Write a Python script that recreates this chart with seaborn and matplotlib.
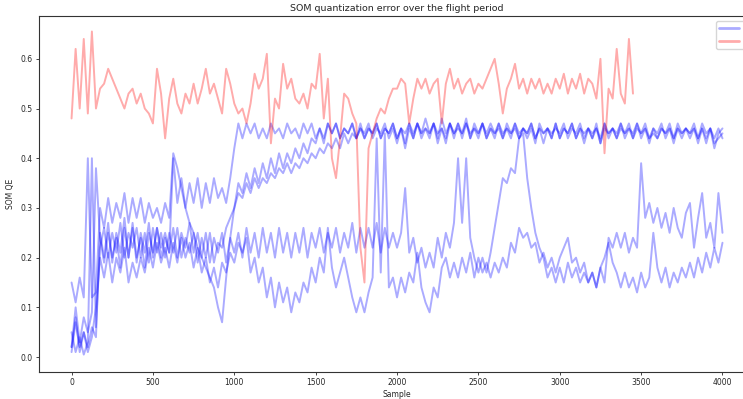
import numpy as np
import matplotlib
matplotlib.use("Agg")
import matplotlib.pyplot as plt
import seaborn as sns

# -------------------------------
# Data read off the chart (QE sampled every 25 samples)
# -------------------------------
sample = np.arange(0, 4001, 25)
sample_anomaly = np.arange(0, 3451, 25)

flight_1 = [
    0.02, 0.08, 0.01, 0.05, 0.02, 0.06, 0.04, 0.25,
    0.20, 0.27, 0.19, 0.25, 0.21, 0.28, 0.20, 0.26,
    0.19, 0.25, 0.21, 0.27, 0.20, 0.26, 0.22, 0.25,
    0.21, 0.40, 0.31, 0.36, 0.30, 0.35, 0.31, 0.36,
    0.30, 0.35, 0.31, 0.36, 0.32, 0.34, 0.31, 0.36,
    0.42, 0.47, 0.44, 0.47, 0.45, 0.47, 0.44, 0.46,
    0.44, 0.47, 0.45, 0.46, 0.44, 0.47, 0.45, 0.46,
    0.44, 0.47, 0.45, 0.47, 0.44, 0.46, 0.43, 0.47,
    0.45, 0.47, 0.44, 0.46, 0.45, 0.47, 0.44, 0.46,
    0.45, 0.47, 0.44, 0.46, 0.45, 0.47, 0.44, 0.46,
    0.43, 0.46, 0.42, 0.46, 0.44, 0.47, 0.45, 0.48,
    0.45, 0.47, 0.44, 0.48, 0.45, 0.47, 0.44, 0.47,
    0.45, 0.48, 0.44, 0.47, 0.45, 0.47, 0.44, 0.46,
    0.44, 0.47, 0.45, 0.46, 0.44, 0.47, 0.45, 0.46,
    0.44, 0.46, 0.43, 0.47, 0.45, 0.46, 0.44, 0.47,
    0.44, 0.46, 0.45, 0.47, 0.44, 0.46, 0.43, 0.46,
    0.44, 0.46, 0.43, 0.47, 0.44, 0.46, 0.45, 0.47,
    0.44, 0.46, 0.45, 0.47, 0.44, 0.46, 0.43, 0.46,
    0.45, 0.47, 0.44, 0.46, 0.43, 0.46, 0.44, 0.46,
    0.44, 0.46, 0.43, 0.46, 0.44, 0.46, 0.42, 0.45,
    0.46,
]

flight_2 = [
    0.05, 0.01, 0.04, 0.005, 0.03, 0.40, 0.06, 0.22,
    0.26, 0.20, 0.25, 0.21, 0.27, 0.20, 0.25, 0.22,
    0.26, 0.20, 0.25, 0.19, 0.26, 0.21, 0.25, 0.20,
    0.25, 0.21, 0.26, 0.20, 0.24, 0.21, 0.25, 0.19,
    0.24, 0.20, 0.25, 0.19, 0.23, 0.22, 0.26, 0.28,
    0.30, 0.35, 0.33, 0.37, 0.34, 0.38, 0.35, 0.39,
    0.36, 0.40, 0.37, 0.41, 0.38, 0.41, 0.39, 0.42,
    0.40, 0.43, 0.41, 0.44, 0.43, 0.46, 0.44, 0.47,
    0.45, 0.47, 0.44, 0.46, 0.45, 0.47, 0.44, 0.47,
    0.44, 0.46, 0.45, 0.47, 0.44, 0.46, 0.45, 0.47,
    0.44, 0.46, 0.43, 0.47, 0.45, 0.47, 0.44, 0.46,
    0.45, 0.47, 0.43, 0.46, 0.44, 0.47, 0.45, 0.47,
    0.44, 0.47, 0.45, 0.46, 0.44, 0.47, 0.45, 0.47,
    0.45, 0.47, 0.44, 0.46, 0.45, 0.47, 0.44, 0.46,
    0.45, 0.47, 0.44, 0.46, 0.43, 0.46, 0.45, 0.46,
    0.45, 0.47, 0.44, 0.46, 0.45, 0.47, 0.44, 0.46,
    0.45, 0.46, 0.44, 0.47, 0.45, 0.46, 0.44, 0.46,
    0.45, 0.47, 0.44, 0.46, 0.45, 0.47, 0.44, 0.45,
    0.44, 0.46, 0.45, 0.47, 0.44, 0.46, 0.45, 0.46,
    0.45, 0.47, 0.44, 0.46, 0.43, 0.46, 0.44, 0.46,
    0.44,
]

flight_3 = [
    0.15, 0.11, 0.16, 0.12, 0.40, 0.12, 0.13, 0.30,
    0.26, 0.32, 0.27, 0.31, 0.28, 0.33, 0.27, 0.32,
    0.28, 0.32, 0.27, 0.31, 0.28, 0.30, 0.27, 0.31,
    0.28, 0.41, 0.38, 0.34, 0.30, 0.27, 0.25, 0.22,
    0.20, 0.18, 0.16, 0.14, 0.10, 0.07, 0.16, 0.24,
    0.30, 0.33, 0.32, 0.35, 0.33, 0.36, 0.34, 0.36,
    0.35, 0.37, 0.36, 0.38, 0.37, 0.39, 0.37, 0.39,
    0.38, 0.40, 0.39, 0.41, 0.40, 0.42, 0.41, 0.43,
    0.42, 0.44, 0.42, 0.45, 0.43, 0.45, 0.44, 0.46,
    0.44, 0.46, 0.45, 0.47, 0.44, 0.46, 0.45, 0.47,
    0.44, 0.46, 0.45, 0.47, 0.44, 0.47, 0.45, 0.46,
    0.44, 0.47, 0.45, 0.46, 0.43, 0.47, 0.45, 0.46,
    0.45, 0.47, 0.44, 0.46, 0.45, 0.47, 0.44, 0.46,
    0.45, 0.46, 0.44, 0.47, 0.45, 0.46, 0.44, 0.46,
    0.45, 0.47, 0.44, 0.46, 0.45, 0.46, 0.44, 0.47,
    0.44, 0.46, 0.45, 0.47, 0.44, 0.46, 0.45, 0.46,
    0.44, 0.47, 0.43, 0.46, 0.45, 0.46, 0.44, 0.47,
    0.45, 0.46, 0.44, 0.47, 0.45, 0.46, 0.44, 0.46,
    0.44, 0.46, 0.45, 0.46, 0.44, 0.47, 0.45, 0.46,
    0.45, 0.46, 0.44, 0.47, 0.45, 0.46, 0.43, 0.44,
    0.45,
]

flight_4 = [
    0.02, 0.10, 0.03, 0.08, 0.05, 0.09, 0.38, 0.24,
    0.19, 0.25, 0.20, 0.24, 0.18, 0.26, 0.20, 0.27,
    0.20, 0.24, 0.18, 0.25, 0.21, 0.26, 0.20, 0.24,
    0.21, 0.26, 0.20, 0.25, 0.22, 0.27, 0.21, 0.25,
    0.20, 0.25, 0.19, 0.24, 0.21, 0.25, 0.19, 0.24,
    0.21, 0.25, 0.20, 0.26, 0.21, 0.25, 0.20, 0.26,
    0.21, 0.25, 0.20, 0.26, 0.21, 0.25, 0.20, 0.25,
    0.21, 0.26, 0.20, 0.25, 0.22, 0.26, 0.21, 0.25,
    0.22, 0.26, 0.21, 0.25, 0.22, 0.27, 0.21, 0.26,
    0.22, 0.26, 0.22, 0.27, 0.21, 0.26, 0.22, 0.25,
    0.22, 0.25, 0.34, 0.21, 0.24, 0.19, 0.22, 0.18,
    0.21, 0.18, 0.24, 0.20, 0.25, 0.22, 0.27, 0.40,
    0.27, 0.40, 0.24, 0.20, 0.17, 0.20, 0.17, 0.21,
    0.26, 0.31, 0.36, 0.35, 0.38, 0.37, 0.44, 0.45,
    0.36, 0.30, 0.25, 0.22, 0.20, 0.16, 0.18, 0.15,
    0.18, 0.15, 0.19, 0.16, 0.18, 0.15, 0.17, 0.15,
    0.17, 0.14, 0.18, 0.15, 0.24, 0.22, 0.25, 0.22,
    0.25, 0.21, 0.24, 0.22, 0.39, 0.28, 0.31, 0.27,
    0.30, 0.26, 0.29, 0.25, 0.30, 0.26, 0.24, 0.29,
    0.31, 0.22, 0.28, 0.33, 0.24, 0.27, 0.22, 0.33,
    0.25,
]

flight_5 = [
    0.01, 0.07, 0.02, 0.05, 0.01, 0.04, 0.10, 0.20,
    0.16, 0.21, 0.15, 0.20, 0.17, 0.22, 0.15, 0.19,
    0.16, 0.20, 0.17, 0.22, 0.18, 0.23, 0.19, 0.22,
    0.18, 0.23, 0.19, 0.24, 0.20, 0.23, 0.18, 0.22,
    0.17, 0.20, 0.15, 0.18, 0.14, 0.19, 0.17, 0.21,
    0.19, 0.23, 0.21, 0.24, 0.17, 0.20, 0.15, 0.18,
    0.12, 0.16, 0.10, 0.15, 0.11, 0.14, 0.09, 0.13,
    0.11, 0.15, 0.13, 0.18, 0.15, 0.20, 0.17, 0.26,
    0.18, 0.14, 0.17, 0.20, 0.16, 0.12, 0.09, 0.12,
    0.09, 0.13, 0.16, 0.44, 0.17, 0.45, 0.14, 0.16,
    0.12, 0.16, 0.13, 0.17, 0.15, 0.21, 0.14, 0.11,
    0.09, 0.14, 0.12, 0.18, 0.20, 0.16, 0.19, 0.16,
    0.20, 0.17, 0.21, 0.16, 0.20, 0.17, 0.19, 0.16,
    0.19, 0.17, 0.20, 0.18, 0.23, 0.21, 0.26, 0.24,
    0.25, 0.22, 0.23, 0.19, 0.21, 0.18, 0.20, 0.17,
    0.20, 0.22, 0.24, 0.19, 0.20, 0.17, 0.19, 0.15,
    0.17, 0.14, 0.18, 0.20, 0.23, 0.19, 0.17, 0.14,
    0.17, 0.14, 0.16, 0.13, 0.17, 0.14, 0.16, 0.25,
    0.18, 0.15, 0.18, 0.14, 0.17, 0.15, 0.18, 0.16,
    0.19, 0.16, 0.20, 0.17, 0.21, 0.18, 0.22, 0.19,
    0.23,
]

anomaly_flight = [
    0.48, 0.62, 0.50, 0.64, 0.49, 0.655, 0.50, 0.54,
    0.55, 0.58, 0.56, 0.54, 0.52, 0.50, 0.53, 0.54,
    0.51, 0.53, 0.50, 0.49, 0.47, 0.58, 0.53, 0.44,
    0.52, 0.56, 0.51, 0.49, 0.53, 0.51, 0.55, 0.51,
    0.54, 0.58, 0.53, 0.55, 0.52, 0.49, 0.58, 0.55,
    0.51, 0.49, 0.50, 0.47, 0.51, 0.57, 0.54, 0.56,
    0.61, 0.43, 0.52, 0.50, 0.59, 0.54, 0.56, 0.52,
    0.51, 0.53, 0.50, 0.55, 0.54, 0.61, 0.48, 0.56,
    0.40, 0.36, 0.44, 0.53, 0.52, 0.49, 0.47, 0.22,
    0.15, 0.42, 0.45, 0.48, 0.50, 0.49, 0.52, 0.54,
    0.54, 0.56, 0.55, 0.47, 0.52, 0.56, 0.54, 0.56,
    0.53, 0.55, 0.56, 0.47, 0.55, 0.58, 0.54, 0.56,
    0.53, 0.55, 0.56, 0.53, 0.55, 0.54, 0.56, 0.58,
    0.60, 0.55, 0.49, 0.54, 0.56, 0.59, 0.54, 0.56,
    0.53, 0.56, 0.54, 0.56, 0.53, 0.55, 0.53, 0.56,
    0.54, 0.57, 0.53, 0.56, 0.54, 0.57, 0.53, 0.56,
    0.55, 0.52, 0.60, 0.41, 0.54, 0.52, 0.62, 0.53,
    0.51, 0.64, 0.53,
]

normal_flights = [flight_1, flight_2, flight_3, flight_4, flight_5]

# -------------------------------
# Plot
# -------------------------------
sns.set_style("ticks")
plt.rcParams['font.family'] = ['DejaVu Sans']

fig = plt.figure(figsize=(7.43, 3.99), dpi=100)
ax = fig.add_axes([0.0525, 0.0677, 0.9637, 0.892])

for i, qe in enumerate(normal_flights):
    sns.lineplot(x=sample, y=qe, color="blue", alpha=0.33, lw=1.4, ax=ax,
                 label="Normal flights" if i == 0 else None)
sns.lineplot(x=sample_anomaly, y=anomaly_flight, color="red", alpha=0.33, lw=1.4,
             ax=ax, label="Anomalous flight")

ax.set_xlim(-200, 4200)
ax.set_ylim(-0.03, 0.686)
ax.set_title("SOM quantization error over the flight period", fontsize=6.8, pad=4)
ax.set_xlabel("Sample", fontsize=5.5, labelpad=2)
ax.set_ylabel("SOM QE", fontsize=5.5, labelpad=4)
ax.tick_params(labelsize=5.5, length=2.5, width=0.6, pad=2)
for sp in ax.spines.values():
    sp.set_linewidth(0.8)
    sp.set_color("#333333")

leg = ax.legend(loc="upper left", bbox_to_anchor=(0.9455, 0.986), borderaxespad=0,
                fontsize=5.5, frameon=True, handlelength=2.6)
for line in leg.get_lines():
    line.set_linewidth(2)

fig.savefig("out.png", dpi=100)
